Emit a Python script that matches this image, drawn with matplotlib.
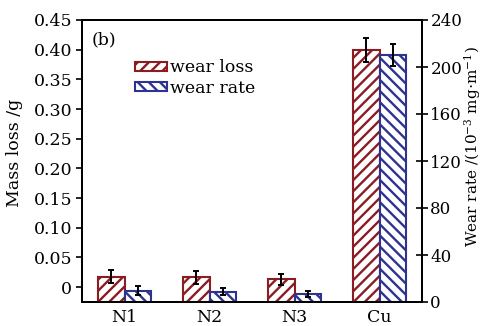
import matplotlib
matplotlib.use("Agg")
import matplotlib.pyplot as plt
import numpy as np

plt.rcParams['font.family'] = ['DejaVu Serif']
plt.rcParams['hatch.linewidth'] = 1.7
plt.rcParams['mathtext.fontset'] = 'dejavuserif'

categories = ["N1", "N2", "N3", "Cu"]
wear_loss = [0.0174, 0.0164, 0.013, 0.400]        # g (left axis)
wear_loss_err = [0.011, 0.0115, 0.010, 0.020]
wear_rate = [9.4, 8.8, 6.8, 210.0]                 # 10^-3 mg/m (right axis)
wear_rate_err = [3.8, 3.2, 2.8, 9.4]

left_ticks = [0, 0.05, 0.10, 0.15, 0.20, 0.25, 0.30, 0.35, 0.40, 0.45]
left_labels = ["0", "0.05", "0.10", "0.15", "0.20", "0.25", "0.30", "0.35", "0.40", "0.45"]
right_ticks = [0, 40, 80, 120, 160, 200, 240]

red = "#8a1c22"
blue = "#2e3390"
fs = 12.5

fig = plt.figure(figsize=(4.84, 3.26), dpi=100)
ax = fig.add_axes([82/484, 1-302/326, 340/484, 282/326])
ax2 = ax.twinx()

x = np.arange(len(categories))
w = 0.31
ymin = -0.025
ax.set_ylim(ymin, 0.45)
ax2.set_ylim(0, 240)
ax.set_xlim(-0.5, 3.5)

wl = np.array(wear_loss)
ax.bar(x - w/2, wl - ymin, w, bottom=ymin, color="white", edgecolor=red,
       hatch="///", linewidth=1.5, label="wear loss", zorder=2)
ax.errorbar(x - w/2, wl, yerr=wear_loss_err, fmt="none", ecolor="black",
            elinewidth=1.4, capsize=2.4, capthick=1.4, zorder=3)
ax2.bar(x + w/2, wear_rate, w, color="white", edgecolor=blue,
        hatch="\\\\\\", linewidth=1.5, label="wear rate", zorder=2)
ax2.errorbar(x + w/2, wear_rate, yerr=wear_rate_err, fmt="none", ecolor="black",
             elinewidth=1.4, capsize=2.4, capthick=1.4, zorder=3)

ax.set_xticks(x)
ax.set_xticklabels(categories, fontsize=fs)
ax.tick_params(axis='x', length=0, pad=5)
ax.set_yticks(left_ticks)
ax.set_yticklabels(left_labels, fontsize=fs)
ax.tick_params(axis='y', direction='out', length=4, width=1.2, pad=3)
ax2.set_yticks(right_ticks)
ax2.tick_params(axis='y', direction='inout', length=8, width=1.2, labelsize=12, pad=2)

ax.set_ylabel("Mass loss /g", fontsize=fs)
ax.yaxis.set_label_coords(-0.174, 0.53)
ax2.set_ylabel(r"Wear rate /(10$^{-3}$ mg$\cdot$m$^{-1}$)", fontsize=11)
ax2.yaxis.set_label_coords(1.118, 0.55)

for a in (ax, ax2):
    for s in a.spines.values():
        s.set_linewidth(1.4)

ax.text(0.028, 0.93, "(b)", transform=ax.transAxes, fontsize=fs, va="center")

h1, l1 = ax.get_legend_handles_labels()
h2, l2 = ax2.get_legend_handles_labels()
ax.legend(h1 + h2, l1 + l2, loc="upper left", bbox_to_anchor=(0.156, 0.86),
          frameon=False, fontsize=fs, handlelength=1.85, handleheight=0.45,
          handletextpad=0.15, labelspacing=0.2, borderaxespad=0, borderpad=0)

fig.savefig("out.png", dpi=100)
